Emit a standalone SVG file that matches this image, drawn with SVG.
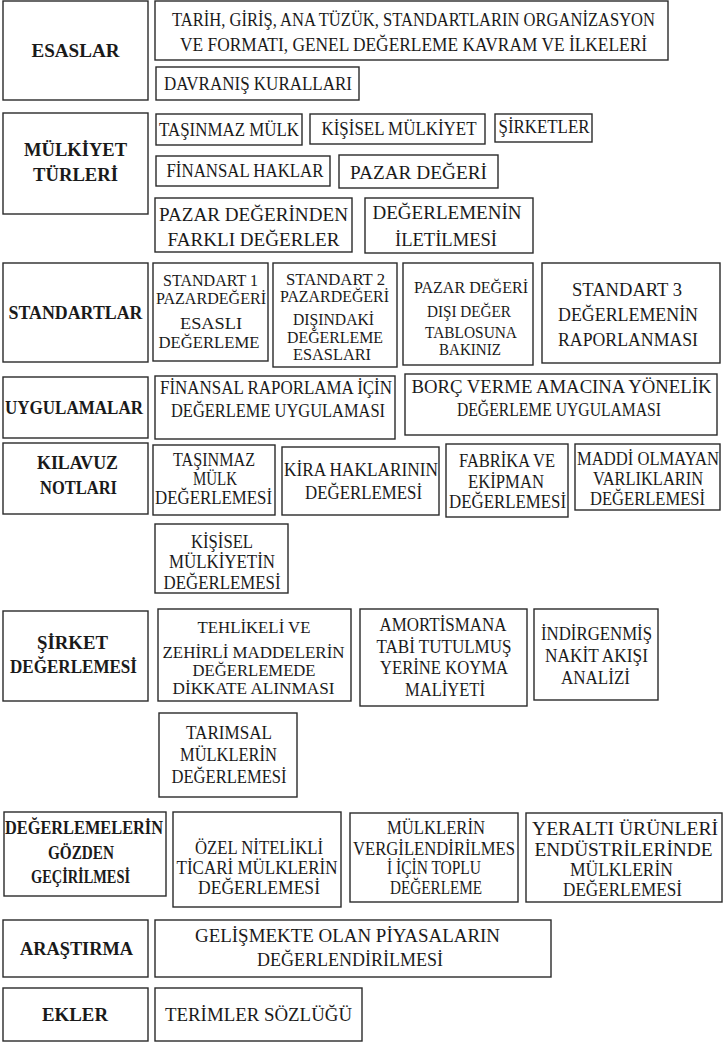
<svg xmlns="http://www.w3.org/2000/svg" width="724" height="1044" viewBox="0 0 724 1044">
<style>
rect{fill:#fff;stroke:#2a2a2a;stroke-width:1.4}
text{font-family:"Liberation Serif","Times New Roman",serif;font-size:19px;fill:#1a1a1a;text-anchor:middle}
.h text{font-weight:bold}
.s text{font-size:17px}
</style>
<rect x="0" y="0" width="724" height="1044" style="stroke:none"/>
<g id="connectors"></g>

<g id="esaslar" class="h"><rect x="3" y="1" width="145" height="99"/><text x="75.5" y="57" textLength="88" lengthAdjust="spacingAndGlyphs">ESASLAR</text></g>
<g id="tarih"><rect x="155" y="1" width="513" height="59"/><text x="413.5" y="26" font-size="17" textLength="483" lengthAdjust="spacingAndGlyphs">TARİH, GİRİŞ, ANA TÜZÜK, STANDARTLARIN ORGANİZASYON</text><text x="413.5" y="51" font-size="17" textLength="467" lengthAdjust="spacingAndGlyphs">VE FORMATI, GENEL DEĞERLEME KAVRAM VE İLKELERİ</text></g>
<g id="davranis"><rect x="156" y="67" width="203" height="33"/><text x="258" y="90" textLength="188" lengthAdjust="spacingAndGlyphs">DAVRANIŞ KURALLARI</text></g>

<g id="mulkiyet" class="h"><rect x="3" y="113" width="145" height="101"/><text x="75.5" y="156" textLength="103" lengthAdjust="spacingAndGlyphs">MÜLKİYET</text><text x="75.5" y="181" textLength="85" lengthAdjust="spacingAndGlyphs">TÜRLERİ</text></g>
<g id="tasinmaz"><rect x="156" y="114" width="146" height="31"/><text x="229" y="136" textLength="140" lengthAdjust="spacingAndGlyphs">TAŞINMAZ MÜLK</text></g>
<g id="kisisel"><rect x="310" y="114" width="175" height="30"/><text x="399" y="135" textLength="155" lengthAdjust="spacingAndGlyphs">KİŞİSEL MÜLKİYET</text></g>
<g id="sirketler"><rect x="495" y="114" width="97" height="28"/><text x="544" y="133" textLength="91" lengthAdjust="spacingAndGlyphs">ŞİRKETLER</text></g>
<g id="finansal"><rect x="156" y="156" width="174" height="30"/><text x="245" y="177" textLength="157" lengthAdjust="spacingAndGlyphs">FİNANSAL HAKLAR</text></g>
<g id="pazar"><rect x="339" y="155" width="159" height="33"/><text x="418.5" y="179" textLength="137" lengthAdjust="spacingAndGlyphs">PAZAR DEĞERİ</text></g>
<g id="farkli"><rect x="155" y="198" width="197" height="54"/><text x="253.5" y="221" textLength="189" lengthAdjust="spacingAndGlyphs">PAZAR DEĞERİNDEN</text><text x="253.5" y="246" textLength="172" lengthAdjust="spacingAndGlyphs">FARKLI DEĞERLER</text></g>
<g id="iletilmesi"><rect x="365" y="198" width="168" height="55"/><text x="447" y="219" textLength="149" lengthAdjust="spacingAndGlyphs">DEĞERLEMENİN</text><text x="446" y="246" textLength="102" lengthAdjust="spacingAndGlyphs">İLETİLMESİ</text></g>

<g id="standartlar" class="h"><rect x="3" y="263" width="145" height="99"/><text x="75.5" y="319" textLength="134" lengthAdjust="spacingAndGlyphs">STANDARTLAR</text></g>
<g id="std1" class="s"><rect x="153" y="263" width="115" height="98"/><text x="210.5" y="286" textLength="95" lengthAdjust="spacingAndGlyphs">STANDART 1</text><text x="211" y="304" textLength="110" lengthAdjust="spacingAndGlyphs">PAZARDEĞERİ</text><text x="211" y="329" textLength="62" lengthAdjust="spacingAndGlyphs">ESASLI</text><text x="209" y="348" textLength="101" lengthAdjust="spacingAndGlyphs">DEĞERLEME</text></g>
<g id="std2" class="s"><rect x="273" y="263" width="124" height="104"/><text x="335.5" y="285" textLength="99" lengthAdjust="spacingAndGlyphs">STANDART 2</text><text x="334.5" y="302" textLength="109" lengthAdjust="spacingAndGlyphs">PAZARDEĞERİ</text><text x="333.5" y="325" textLength="81" lengthAdjust="spacingAndGlyphs">DIŞINDAKİ</text><text x="335" y="343" textLength="96" lengthAdjust="spacingAndGlyphs">DEĞERLEME</text><text x="332" y="360" textLength="78" lengthAdjust="spacingAndGlyphs">ESASLARI</text></g>
<g id="tablo" class="s"><rect x="403" y="263" width="130" height="102"/><text x="471" y="293" textLength="114" lengthAdjust="spacingAndGlyphs">PAZAR DEĞERİ</text><text x="469" y="317" textLength="84" lengthAdjust="spacingAndGlyphs">DIŞI DEĞER</text><text x="471" y="338" textLength="92" lengthAdjust="spacingAndGlyphs">TABLOSUNA</text><text x="470" y="355" textLength="62" lengthAdjust="spacingAndGlyphs">BAKINIZ</text></g>
<g id="std3"><rect x="542" y="263" width="178" height="100"/><text x="627" y="296" textLength="110" lengthAdjust="spacingAndGlyphs">STANDART 3</text><text x="628" y="321" textLength="140" lengthAdjust="spacingAndGlyphs">DEĞERLEMENİN</text><text x="628" y="346" textLength="140" lengthAdjust="spacingAndGlyphs">RAPORLANMASI</text></g>

<g id="uygulamalar" class="h"><rect x="3" y="377" width="145" height="61"/><text x="74" y="414" textLength="138" lengthAdjust="spacingAndGlyphs">UYGULAMALAR</text></g>
<g id="finrap"><rect x="155" y="376" width="240" height="63"/><text x="276" y="394" textLength="232" lengthAdjust="spacingAndGlyphs">FİNANSAL RAPORLAMA İÇİN</text><text x="278" y="417" textLength="214" lengthAdjust="spacingAndGlyphs">DEĞERLEME UYGULAMASI</text></g>
<g id="borc"><rect x="405" y="374" width="312" height="61"/><text x="561.5" y="393" font-size="18" textLength="300" lengthAdjust="spacingAndGlyphs">BORÇ VERME AMACINA YÖNELİK</text><text x="559" y="416" textLength="204" lengthAdjust="spacingAndGlyphs">DEĞERLEME UYGULAMASI</text></g>

<g id="kilavuz" class="h"><rect x="3" y="443" width="145" height="71"/><text x="77.5" y="469" textLength="81" lengthAdjust="spacingAndGlyphs">KILAVUZ</text><text x="78.5" y="494" textLength="77" lengthAdjust="spacingAndGlyphs">NOTLARI</text></g>
<g id="tasdeg"><rect x="153" y="445" width="122" height="70"/><text x="214" y="466" textLength="82" lengthAdjust="spacingAndGlyphs">TAŞINMAZ</text><text x="215" y="485" textLength="44" lengthAdjust="spacingAndGlyphs">MÜLK</text><text x="213.5" y="504" textLength="117" lengthAdjust="spacingAndGlyphs">DEĞERLEMESİ</text></g>
<g id="kira"><rect x="282" y="447" width="157" height="68"/><text x="361" y="476" textLength="154" lengthAdjust="spacingAndGlyphs">KİRA HAKLARININ</text><text x="363.5" y="499" textLength="117" lengthAdjust="spacingAndGlyphs">DEĞERLEMESİ</text></g>
<g id="fabrika"><rect x="446" y="444" width="122" height="73"/><text x="507" y="467" textLength="96" lengthAdjust="spacingAndGlyphs">FABRİKA VE</text><text x="506" y="488" textLength="76" lengthAdjust="spacingAndGlyphs">EKİPMAN</text><text x="507.5" y="508" textLength="117" lengthAdjust="spacingAndGlyphs">DEĞERLEMESİ</text></g>
<g id="maddi"><rect x="575" y="444" width="145" height="66"/><text x="648" y="465" font-size="16.5" textLength="142" lengthAdjust="spacingAndGlyphs">MADDİ OLMAYAN</text><text x="648" y="485" textLength="110" lengthAdjust="spacingAndGlyphs">VARLIKLARIN</text><text x="647.5" y="505" textLength="115" lengthAdjust="spacingAndGlyphs">DEĞERLEMESİ</text></g>
<g id="kisdeg"><rect x="155" y="524" width="133" height="69"/><text x="222" y="548" textLength="62" lengthAdjust="spacingAndGlyphs">KİŞİSEL</text><text x="222" y="568" textLength="106" lengthAdjust="spacingAndGlyphs">MÜLKİYETİN</text><text x="222" y="589" textLength="117" lengthAdjust="spacingAndGlyphs">DEĞERLEMESİ</text></g>

<g id="sirket" class="h"><rect x="3" y="611" width="145" height="90"/><text x="72.5" y="649" textLength="71" lengthAdjust="spacingAndGlyphs">ŞİRKET</text><text x="73.5" y="673" textLength="127" lengthAdjust="spacingAndGlyphs">DEĞERLEMESİ</text></g>
<g id="tehlikeli" class="s"><rect x="158" y="609" width="193" height="92"/><text x="254" y="633" textLength="113" lengthAdjust="spacingAndGlyphs">TEHLİKELİ VE</text><text x="253.5" y="658" textLength="182" lengthAdjust="spacingAndGlyphs">ZEHİRLİ MADDELERİN</text><text x="254" y="676" textLength="123" lengthAdjust="spacingAndGlyphs">DEĞERLEMEDE</text><text x="253.5" y="694" textLength="162" lengthAdjust="spacingAndGlyphs">DİKKATE ALINMASI</text></g>
<g id="amortisman"><rect x="360" y="609" width="167" height="97"/><text x="443" y="631" textLength="127" lengthAdjust="spacingAndGlyphs">AMORTİSMANA</text><text x="444" y="653" textLength="135" lengthAdjust="spacingAndGlyphs">TABİ TUTULMUŞ</text><text x="444" y="674" textLength="128" lengthAdjust="spacingAndGlyphs">YERİNE KOYMA</text><text x="445" y="696" textLength="80" lengthAdjust="spacingAndGlyphs">MALİYETİ</text></g>
<g id="indirgenmis"><rect x="534" y="609" width="124" height="91"/><text x="596.5" y="640" textLength="111" lengthAdjust="spacingAndGlyphs">İNDİRGENMİŞ</text><text x="596.5" y="662" textLength="103" lengthAdjust="spacingAndGlyphs">NAKİT AKIŞI</text><text x="595.5" y="684" textLength="69" lengthAdjust="spacingAndGlyphs">ANALİZİ</text></g>
<g id="tarimsal"><rect x="159" y="713" width="138" height="84"/><text x="229" y="739" textLength="86" lengthAdjust="spacingAndGlyphs">TARIMSAL</text><text x="228.5" y="761" textLength="97" lengthAdjust="spacingAndGlyphs">MÜLKLERİN</text><text x="229" y="783" textLength="115" lengthAdjust="spacingAndGlyphs">DEĞERLEMESİ</text></g>

<g id="gozden" class="h"><rect x="4" y="812" width="162" height="84"/><text x="84" y="834" textLength="158" lengthAdjust="spacingAndGlyphs">DEĞERLEMELERİN</text><text x="81" y="859" textLength="66" lengthAdjust="spacingAndGlyphs">GÖZDEN</text><text x="80.5" y="883" textLength="99" lengthAdjust="spacingAndGlyphs">GEÇİRİLMESİ</text></g>
<g id="ozel"><rect x="173" y="812" width="168" height="95"/><text x="259" y="854" textLength="128" lengthAdjust="spacingAndGlyphs">ÖZEL NİTELİKLİ</text><text x="257" y="874" textLength="161" lengthAdjust="spacingAndGlyphs">TİCARİ MÜLKLERİN</text><text x="259" y="894" textLength="122" lengthAdjust="spacingAndGlyphs">DEĞERLEMESİ</text></g>
<g id="vergi"><rect x="350" y="813" width="168" height="89"/><text x="436" y="834" textLength="98" lengthAdjust="spacingAndGlyphs">MÜLKLERİN</text><text x="434" y="855" textLength="162" lengthAdjust="spacingAndGlyphs">VERGİLENDİRİLMES</text><text x="434" y="874" textLength="94" lengthAdjust="spacingAndGlyphs">İ İÇİN TOPLU</text><text x="436" y="894" textLength="92" lengthAdjust="spacingAndGlyphs">DEĞERLEME</text></g>
<g id="yeralti"><rect x="526" y="813" width="196" height="89"/><text x="625" y="835" textLength="186" lengthAdjust="spacingAndGlyphs">YERALTI ÜRÜNLERİ</text><text x="623.5" y="856" textLength="178" lengthAdjust="spacingAndGlyphs">ENDÜSTRİLERİNDE</text><text x="621.5" y="876" textLength="103" lengthAdjust="spacingAndGlyphs">MÜLKLERİN</text><text x="622.5" y="896" textLength="119" lengthAdjust="spacingAndGlyphs">DEĞERLEMESİ</text></g>

<g id="arastirma" class="h"><rect x="3" y="920" width="145" height="57"/><text x="76.5" y="955" textLength="113" lengthAdjust="spacingAndGlyphs">ARAŞTIRMA</text></g>
<g id="gelismekte"><rect x="155" y="920" width="396" height="57"/><text x="347.5" y="942" textLength="305" lengthAdjust="spacingAndGlyphs">GELİŞMEKTE OLAN PİYASALARIN</text><text x="350" y="966" textLength="186" lengthAdjust="spacingAndGlyphs">DEĞERLENDİRİLMESİ</text></g>

<g id="ekler" class="h"><rect x="3" y="988" width="145" height="53"/><text x="75" y="1021" textLength="66" lengthAdjust="spacingAndGlyphs">EKLER</text></g>
<g id="terimler"><rect x="155" y="988" width="207" height="53"/><text x="258.5" y="1021" textLength="187" lengthAdjust="spacingAndGlyphs">TERİMLER SÖZLÜĞÜ</text></g>
</svg>
